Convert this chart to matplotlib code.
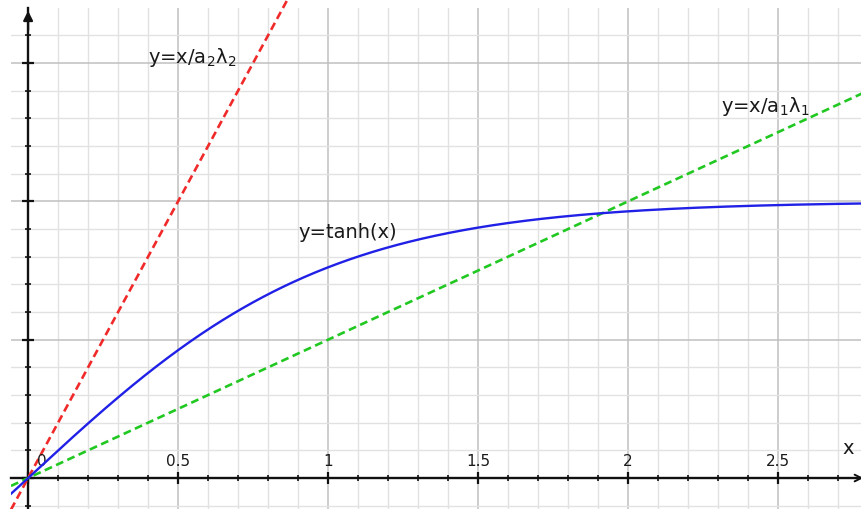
import matplotlib
matplotlib.use('Agg')
import matplotlib.pyplot as plt
from matplotlib.ticker import MultipleLocator
import numpy as np

# view window (data units)
xlim = (-0.057, 2.78)
ylim = (-0.112, 1.699)

# lines: y = x / (a*lambda) slopes
slope_a2 = 2.0   # red, y = x/a2λ2
slope_a1 = 0.5   # green, y = x/a1λ1

xticks = [0.5, 1, 1.5, 2, 2.5]
xticklabels = ['0.5', '1', '1.5', '2', '2.5']

labels = ['y=x/a$_2$λ$_2$', 'y=x/a$_1$λ$_1$', 'y=tanh(x)']
label_pos = [(0.40, 1.525), (2.31, 1.345), (0.90, 0.89)]

x = np.linspace(xlim[0], xlim[1], 600)

fig = plt.figure(figsize=(8.62, 5.10), dpi=100)
ax = fig.add_axes([11 / 862, 0, 851 / 862, 501 / 510])
ax.set_xlim(*xlim)
ax.set_ylim(*ylim)

# grid
ax.xaxis.set_major_locator(MultipleLocator(0.5))
ax.xaxis.set_minor_locator(MultipleLocator(0.1))
ax.yaxis.set_major_locator(MultipleLocator(0.5))
ax.yaxis.set_minor_locator(MultipleLocator(0.1))
ax.grid(which='major', color='#c0c0c0', lw=1.1, zorder=0)
ax.grid(which='minor', color='#e2e2e2', lw=1.0, zorder=0)
ax.set_axisbelow(True)

# axes through the origin
for s in ['top', 'right']:
    ax.spines[s].set_visible(False)
ax.spines['left'].set_position('zero')
ax.spines['bottom'].set_position('zero')
for s in ['left', 'bottom']:
    ax.spines[s].set_color('#111111')
    ax.spines[s].set_linewidth(1.7)
    ax.spines[s].set_zorder(2)
ax.tick_params(which='major', direction='inout', length=9, width=1.6,
               color='#111111', labelbottom=False, labelleft=False)
ax.tick_params(which='minor', direction='inout', length=5, width=1.2,
               color='#111111')

# arrow heads
ax.annotate('', xy=(0, 1.0), xycoords=('data', 'axes fraction'),
            xytext=(0, 0.95), textcoords=('data', 'axes fraction'),
            arrowprops=dict(arrowstyle='-|>', color='#111111', lw=1.6,
                            mutation_scale=14))
ax.annotate('', xy=(1.005, 0), xycoords=('axes fraction', 'data'),
            xytext=(0.96, 0), textcoords=('axes fraction', 'data'),
            arrowprops=dict(arrowstyle='->', color='#111111', lw=1.4,
                            mutation_scale=12), annotation_clip=False)

# curves
ax.plot(x, slope_a2 * x, color='#f02a2a', lw=1.9, ls=(0, (3, 1.7)),
        zorder=3, clip_on=False)
ax.plot(x, slope_a1 * x, color='#22c822', lw=1.9, ls=(0, (3, 1.7)),
        zorder=3)
ax.plot(x, np.tanh(x), color='#2020e6', lw=1.7, zorder=4)

# tick labels above the x axis
for v, t in zip(xticks, xticklabels):
    ax.annotate(t, (v, 0), xytext=(0, 7), textcoords='offset points',
                ha='center', va='bottom', fontsize=11, color='#1a1a1a')
ax.annotate('0', (0, 0), xytext=(10, 7), textcoords='offset points',
            ha='center', va='bottom', fontsize=11, color='#1a1a1a')
ax.annotate('x', (2.735, 0), xytext=(0, 15), textcoords='offset points',
            ha='center', va='bottom', fontsize=14, color='#1a1a1a')

for t, (px, py) in zip(labels, label_pos):
    ax.text(px, py, t, fontsize=14, color='#1a1a1a', ha='left',
            va='center')

fig.savefig('out.png', dpi=100)
